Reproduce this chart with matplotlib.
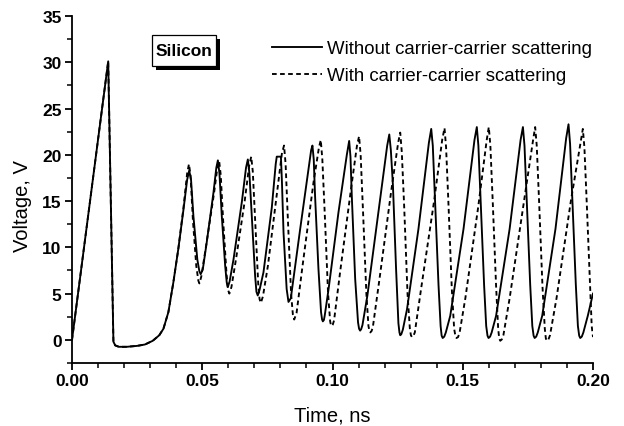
import matplotlib
matplotlib.use("Agg")
import matplotlib.pyplot as plt
from matplotlib.patches import Rectangle
from matplotlib.ticker import MultipleLocator

plt.rcParams['font.family'] = ['Liberation Sans', 'DejaVu Sans']

# charging ramp, breakdown and first rise are the same for both runs
t_start = [0.0, 0.0139, 0.0159, 0.0166, 0.0180, 0.0210, 0.0250, 0.0280,
           0.0310, 0.0335, 0.0351, 0.0370, 0.0389, 0.0408]
v_start = [0.0, 30.1, -0.2, -0.6, -0.75, -0.75, -0.65, -0.5,
           -0.1, 0.5, 1.2, 3.0, 6.2, 9.8]

# without carrier-carrier scattering (solid)
t_solid = [0.0428, 0.0442, 0.0450, 0.0457, 0.0466, 0.0481, 0.0489, 0.0494, 0.0502,
           0.0517, 0.0543, 0.0554, 0.0560, 0.0566, 0.0575, 0.0588, 0.0594, 0.0598, 0.0605,
           0.0620, 0.0652, 0.0668, 0.0675, 0.0681, 0.0690, 0.0703, 0.0708, 0.0713, 0.0720,
           0.0735, 0.0767, 0.0782, 0.0786, 0.0802, 0.0806, 0.0812, 0.0824, 0.0831, 0.0840,
           0.0876, 0.0908, 0.0918, 0.0923, 0.0928, 0.0933, 0.0946, 0.0956, 0.0960, 0.0963, 0.0967, 0.0970,
           0.0985, 0.1023, 0.1055, 0.1064, 0.1069, 0.1074, 0.1087, 0.1098, 0.1102, 0.1106, 0.1110, 0.1115,
           0.1134, 0.1176, 0.1210, 0.1218, 0.1224, 0.1232, 0.1244, 0.1253, 0.1257, 0.1260, 0.1264, 0.1270,
           0.1286, 0.1330, 0.1370, 0.1379, 0.1385, 0.1394, 0.1407, 0.1415, 0.1419, 0.1423, 0.1429, 0.1435,
           0.1452, 0.1503, 0.1545, 0.1554, 0.1560, 0.1569, 0.1582, 0.1590, 0.1595, 0.1599, 0.1605, 0.1611,
           0.1628, 0.1680, 0.1722, 0.1731, 0.1737, 0.1746, 0.1759, 0.1767, 0.1772, 0.1776, 0.1782, 0.1788,
           0.1805, 0.1856, 0.1897, 0.1906, 0.1912, 0.1921, 0.1934, 0.1942, 0.1947, 0.1951, 0.1957, 0.1963,
           0.1980, 0.2000]
v_solid = [14.1, 17.3, 18.3, 17.3, 13.4, 8.7, 7.4, 7.1, 7.6,
           10.5, 15.9, 18.6, 19.4, 18.0, 13.4, 8.0, 6.2, 5.7, 6.3,
           8.7, 14.9, 18.6, 19.5, 18.0, 13.4, 6.9, 5.2, 4.8, 5.4,
           7.3, 14.3, 19.0, 19.8, 19.8, 17.0, 11.6, 5.5, 4.1, 4.5,
           12.0, 18.5, 20.5, 21.0, 19.5, 15.6, 7.7, 3.0, 2.2, 2.0, 2.15, 2.6,
           5.5, 13.8, 20.0, 21.5, 19.8, 15.6, 6.6, 1.9, 1.2, 1.0, 1.15, 1.6,
           4.8, 13.8, 21.0, 22.2, 20.5, 16.7, 7.7, 1.8, 0.8, 0.5, 0.6, 1.1,
           3.3, 12.0, 21.3, 22.8, 21.0, 14.9, 5.9, 1.5, 0.45, 0.2, 0.35, 0.8,
           2.6, 12.0, 21.6, 23.0, 21.0, 14.9, 5.9, 1.5, 0.45, 0.2, 0.35, 0.8,
           2.6, 12.0, 21.6, 23.0, 21.0, 14.9, 5.9, 1.5, 0.45, 0.2, 0.35, 0.8,
           2.6, 12.0, 21.8, 23.3, 21.2, 15.0, 6.0, 1.5, 0.45, 0.2, 0.35, 0.8,
           2.6, 5.0]

# with carrier-carrier scattering (dashed)
t_dashed = [0.0428, 0.0442, 0.0449, 0.0455, 0.0464, 0.0477, 0.0485, 0.0489, 0.0496,
            0.0515, 0.0545, 0.0558, 0.0565, 0.0571, 0.0580, 0.0593, 0.0599, 0.0604, 0.0612,
            0.0630, 0.0662, 0.0680, 0.0688, 0.0694, 0.0703, 0.0715, 0.0720, 0.0725, 0.0733,
            0.0752, 0.0785, 0.0806, 0.0814, 0.0820, 0.0828, 0.0841, 0.0848, 0.0853, 0.0862,
            0.0885, 0.0927, 0.0948, 0.0955, 0.0961, 0.0970, 0.0983, 0.0991, 0.0994, 0.0997, 0.1001, 0.1006,
            0.1030, 0.1072, 0.1094, 0.1102, 0.1108, 0.1117, 0.1130, 0.1138, 0.1142, 0.1145, 0.1150, 0.1155,
            0.1180, 0.1225, 0.1252, 0.1260, 0.1266, 0.1275, 0.1288, 0.1297, 0.1301, 0.1305, 0.1310, 0.1316,
            0.1340, 0.1390, 0.1421, 0.1430, 0.1436, 0.1445, 0.1458, 0.1467, 0.1472, 0.1476, 0.1482, 0.1488,
            0.1510, 0.1560, 0.1592, 0.1600, 0.1606, 0.1615, 0.1628, 0.1636, 0.1640, 0.1644, 0.1650, 0.1656,
            0.1680, 0.1735, 0.1770, 0.1778, 0.1784, 0.1793, 0.1806, 0.1815, 0.1819, 0.1823, 0.1829, 0.1835,
            0.1860, 0.1915, 0.1953, 0.1961, 0.1967, 0.1976, 0.1989, 0.1995, 0.2000]
v_dashed = [14.3, 18.0, 19.0, 17.8, 13.0, 8.0, 6.4, 6.1, 6.8,
            10.2, 15.8, 18.6, 19.3, 17.8, 13.0, 7.2, 5.4, 5.0, 5.7,
            8.8, 14.8, 18.8, 19.8, 18.2, 13.0, 6.0, 4.4, 4.0, 4.7,
            8.0, 15.5, 20.2, 21.0, 19.0, 13.5, 5.0, 2.7, 2.2, 2.9,
            8.0, 17.0, 20.8, 21.6, 19.5, 13.8, 5.0, 2.0, 1.6, 1.5, 1.65, 2.1,
            7.5, 16.5, 21.0, 22.0, 20.0, 14.0, 5.0, 1.5, 0.95, 0.8, 0.95, 1.4,
            6.5, 16.0, 21.3, 22.4, 20.3, 14.5, 5.0, 1.2, 0.5, 0.3, 0.4, 0.8,
            5.5, 15.0, 21.6, 22.9, 20.8, 14.8, 5.5, 1.2, 0.4, 0.2, 0.3, 0.8,
            4.5, 14.5, 21.6, 23.0, 21.0, 15.0, 5.8, 1.2, 0.15, -0.1, 0.05, 0.5,
            4.5, 15.0, 21.6, 23.0, 21.0, 15.0, 5.8, 1.2, 0.15, -0.1, 0.05, 0.5,
            4.5, 15.0, 21.5, 22.8, 20.8, 14.8, 5.5, 1.5, 0.3]

labels = ["Without carrier-carrier scattering", "With carrier-carrier scattering"]

W, H = 624, 427
fig = plt.figure(figsize=(W / 100, H / 100), dpi=100)
ax = fig.add_axes([72 / W, 1 - 364 / H, (593 - 72) / W, (364 - 17) / H])


def fx(px):
    return px / W


def fy(py):
    return 1 - py / H


ax.plot(t_start + t_solid, v_start + v_solid, color='black', lw=1.35, label=labels[0])
ax.plot(t_start + t_dashed, v_start + v_dashed, color='black', lw=1.35,
        linestyle=(0, (2.5, 1.8)), label=labels[1])

ax.set_xlim(0, 0.2)
ax.set_ylim(-2.5, 35)
ax.xaxis.set_major_locator(MultipleLocator(0.05))
ax.xaxis.set_minor_locator(MultipleLocator(0.01))
ax.yaxis.set_major_locator(MultipleLocator(5))
ax.yaxis.set_minor_locator(MultipleLocator(2.5))
ax.xaxis.set_major_formatter(lambda v, p: f"{v:.2f}")

for s in ['top', 'right']:
    ax.spines[s].set_visible(False)
for s in ['left', 'bottom']:
    ax.spines[s].set_linewidth(1.3)
ax.tick_params(which='major', direction='out', length=5, width=1.3, pad=2.5,
               labelsize=12.5)
ax.tick_params(which='minor', direction='out', length=3.5, width=1.1)
for lab in ax.get_xticklabels() + ax.get_yticklabels():
    lab.set_fontweight('bold')

ax.set_xlabel("Time, ns", fontsize=14.5)
ax.set_ylabel("Voltage, V", fontsize=14.5)
ax.xaxis.set_label_coords(0.5, -0.123)
ax.yaxis.set_label_coords(-0.077, 0.455)

leg = ax.legend(loc='upper left', bbox_to_anchor=(fx(272), fy(41)),
                bbox_transform=fig.transFigure, frameon=False, fontsize=13.4,
                handlelength=2.7, handletextpad=0.25, borderpad=0,
                borderaxespad=0, labelspacing=0.56)

# label box with drop shadow
fig.patches.append(Rectangle((fx(156), fy(71)), 64 / W, 31 / H, transform=fig.transFigure,
                             facecolor='black', edgecolor='none', zorder=3))
fig.patches.append(Rectangle((fx(152), fy(67)), 64 / W, 31 / H, transform=fig.transFigure,
                             facecolor='white', edgecolor='black', lw=0.9, zorder=4))
fig.text(fx(184), fy(51.5), "Silicon", fontsize=12.5, fontweight='bold',
         ha='center', va='center', zorder=5)

fig.savefig("out.png", dpi=100)
